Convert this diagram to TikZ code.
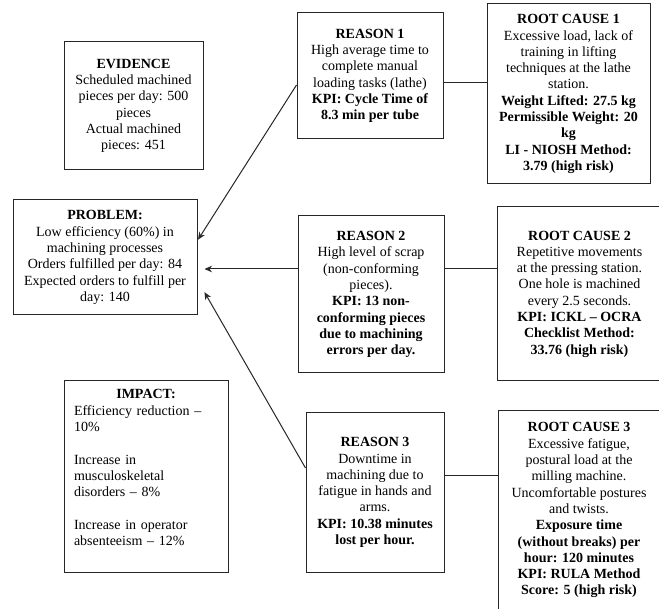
\documentclass[tikz,border=0pt]{standalone}
\usepackage{fontspec}
\setmainfont{Liberation Serif}
\usetikzlibrary{arrows.meta}
\begin{document}
\begin{tikzpicture}[x=1pt,y=-1pt,
  box/.style={draw=black!85, line width=1pt, inner sep=0pt, align=center,
    font=\fontsize{14}{16.3}\selectfont},
  txt/.style={inner sep=0pt, font=\fontsize{14}{16.3}\selectfont},
  link/.style={draw=black!85, line width=1pt},
  arr/.style={link, -{Stealth[length=7.5pt,width=6.5pt]}}]
\clip (0,0) rectangle (659,609);
\useasboundingbox (0,0) rectangle (659,609);

% left column
\node[box, minimum width=139pt, minimum height=128pt] (evidence) at (133.5,106)
  {\textbf{EVIDENCE}\\Scheduled machined\\pieces per day: 500\\pieces\\Actual machined\\pieces: 451};
\node[box, minimum width=184pt, minimum height=115pt] (problem) at (105,257.5)
  {\textbf{PROBLEM:}\\Low efficiency (60\%) in\\machining processes\\Orders fulfilled per day: 84\\Expected orders to fulfill per\\day: 140};
\node[box, minimum width=164pt, minimum height=191pt] (impact) at (146,476.5) {};
\node[txt, anchor=north, text width=144pt, align=left] (impacttext) at ([yshift=-9pt]impact.north)
  {\makebox[\linewidth]{\textbf{IMPACT:}}\\Efficiency reduction --\\10\%\\[16.3pt]Increase in\\musculoskeletal\\disorders -- 8\%\\[16.3pt]Increase in operator\\absenteeism -- 12\%};

% reasons
\node[box, minimum width=146pt, minimum height=126pt] (r1) at (370,76)
  {\textbf{REASON 1}\\High average time to\\complete manual\\loading tasks (lathe)\\\textbf{KPI: Cycle Time of}\\\textbf{8.3 min per tube}};
\node[box, minimum width=146pt, minimum height=157pt] (r2) at (371,294.5)
  {\textbf{REASON 2}\\High level of scrap\\(non-conforming\\pieces).\\\textbf{KPI: 13 non-}\\\textbf{conforming pieces}\\\textbf{due to machining}\\\textbf{errors per day.}};
\node[box, minimum width=138pt, minimum height=159pt] (r3) at (375,492.5)
  {\textbf{REASON 3}\\Downtime in\\machining due to\\fatigue in hands and\\arms.\\\textbf{KPI: 10.38 minutes}\\\textbf{lost per hour.}};

% root causes
\node[box, minimum width=163pt, minimum height=180pt] (rc1) at (568.5,94)
  {\textbf{ROOT CAUSE 1}\\Excessive load, lack of\\training in lifting\\techniques at the lathe\\station.\\\textbf{Weight Lifted: 27.5 kg}\\\textbf{Permissible Weight: 20}\\\textbf{kg}\\\textbf{LI - NIOSH Method:}\\\textbf{3.79 (high risk)}};
\node[box, minimum width=165pt, minimum height=174pt] (rc2) at (579.5,294)
  {\textbf{ROOT CAUSE 2}\\Repetitive movements\\at the pressing station.\\One hole is machined\\every 2.5 seconds.\\\textbf{KPI: ICKL -- OCRA}\\\textbf{Checklist Method:}\\\textbf{33.76 (high risk)}};
\node[box, minimum width=164pt, minimum height=209pt] (rc3) at (580,515.5) {};
\node[txt, anchor=north, align=center] (rc3text) at ([xshift=-1pt,yshift=-12pt]rc3.north)
  {\textbf{ROOT CAUSE 3}\\Excessive fatigue,\\postural load at the\\milling machine.\\Uncomfortable postures\\and twists.\\\textbf{Exposure time}\\\textbf{(without breaks) per}\\\textbf{hour: 120 minutes}\\\textbf{KPI: RULA Method}\\\textbf{Score: 5 (high risk)}};

% reason to root cause links
\coordinate (c1) at ([yshift=-7pt]r1.east);
\draw[link] (c1) -- (c1 -| rc1.west);
\coordinate (c2) at ([yshift=25.5pt]r2.east);
\draw[link] (c2) -- (c2 -| rc2.west);
\coordinate (c3) at ([yshift=16.5pt]r3.east);
\draw[link] (c3) -- (c3 -| rc3.west);

% reasons pointing to the problem
\draw[arr, shorten >=1pt] ([yshift=-9pt]r1.west) -- ([yshift=17pt]problem.east);
\draw[arr, shorten >=7pt] ([yshift=25.5pt]r2.west) -- ([yshift=-11.5pt]problem.east);
\draw[arr, shorten >=14pt] ([yshift=24.5pt]r3.west) -- ([yshift=-22.5pt]problem.east);
\end{tikzpicture}
\end{document}
